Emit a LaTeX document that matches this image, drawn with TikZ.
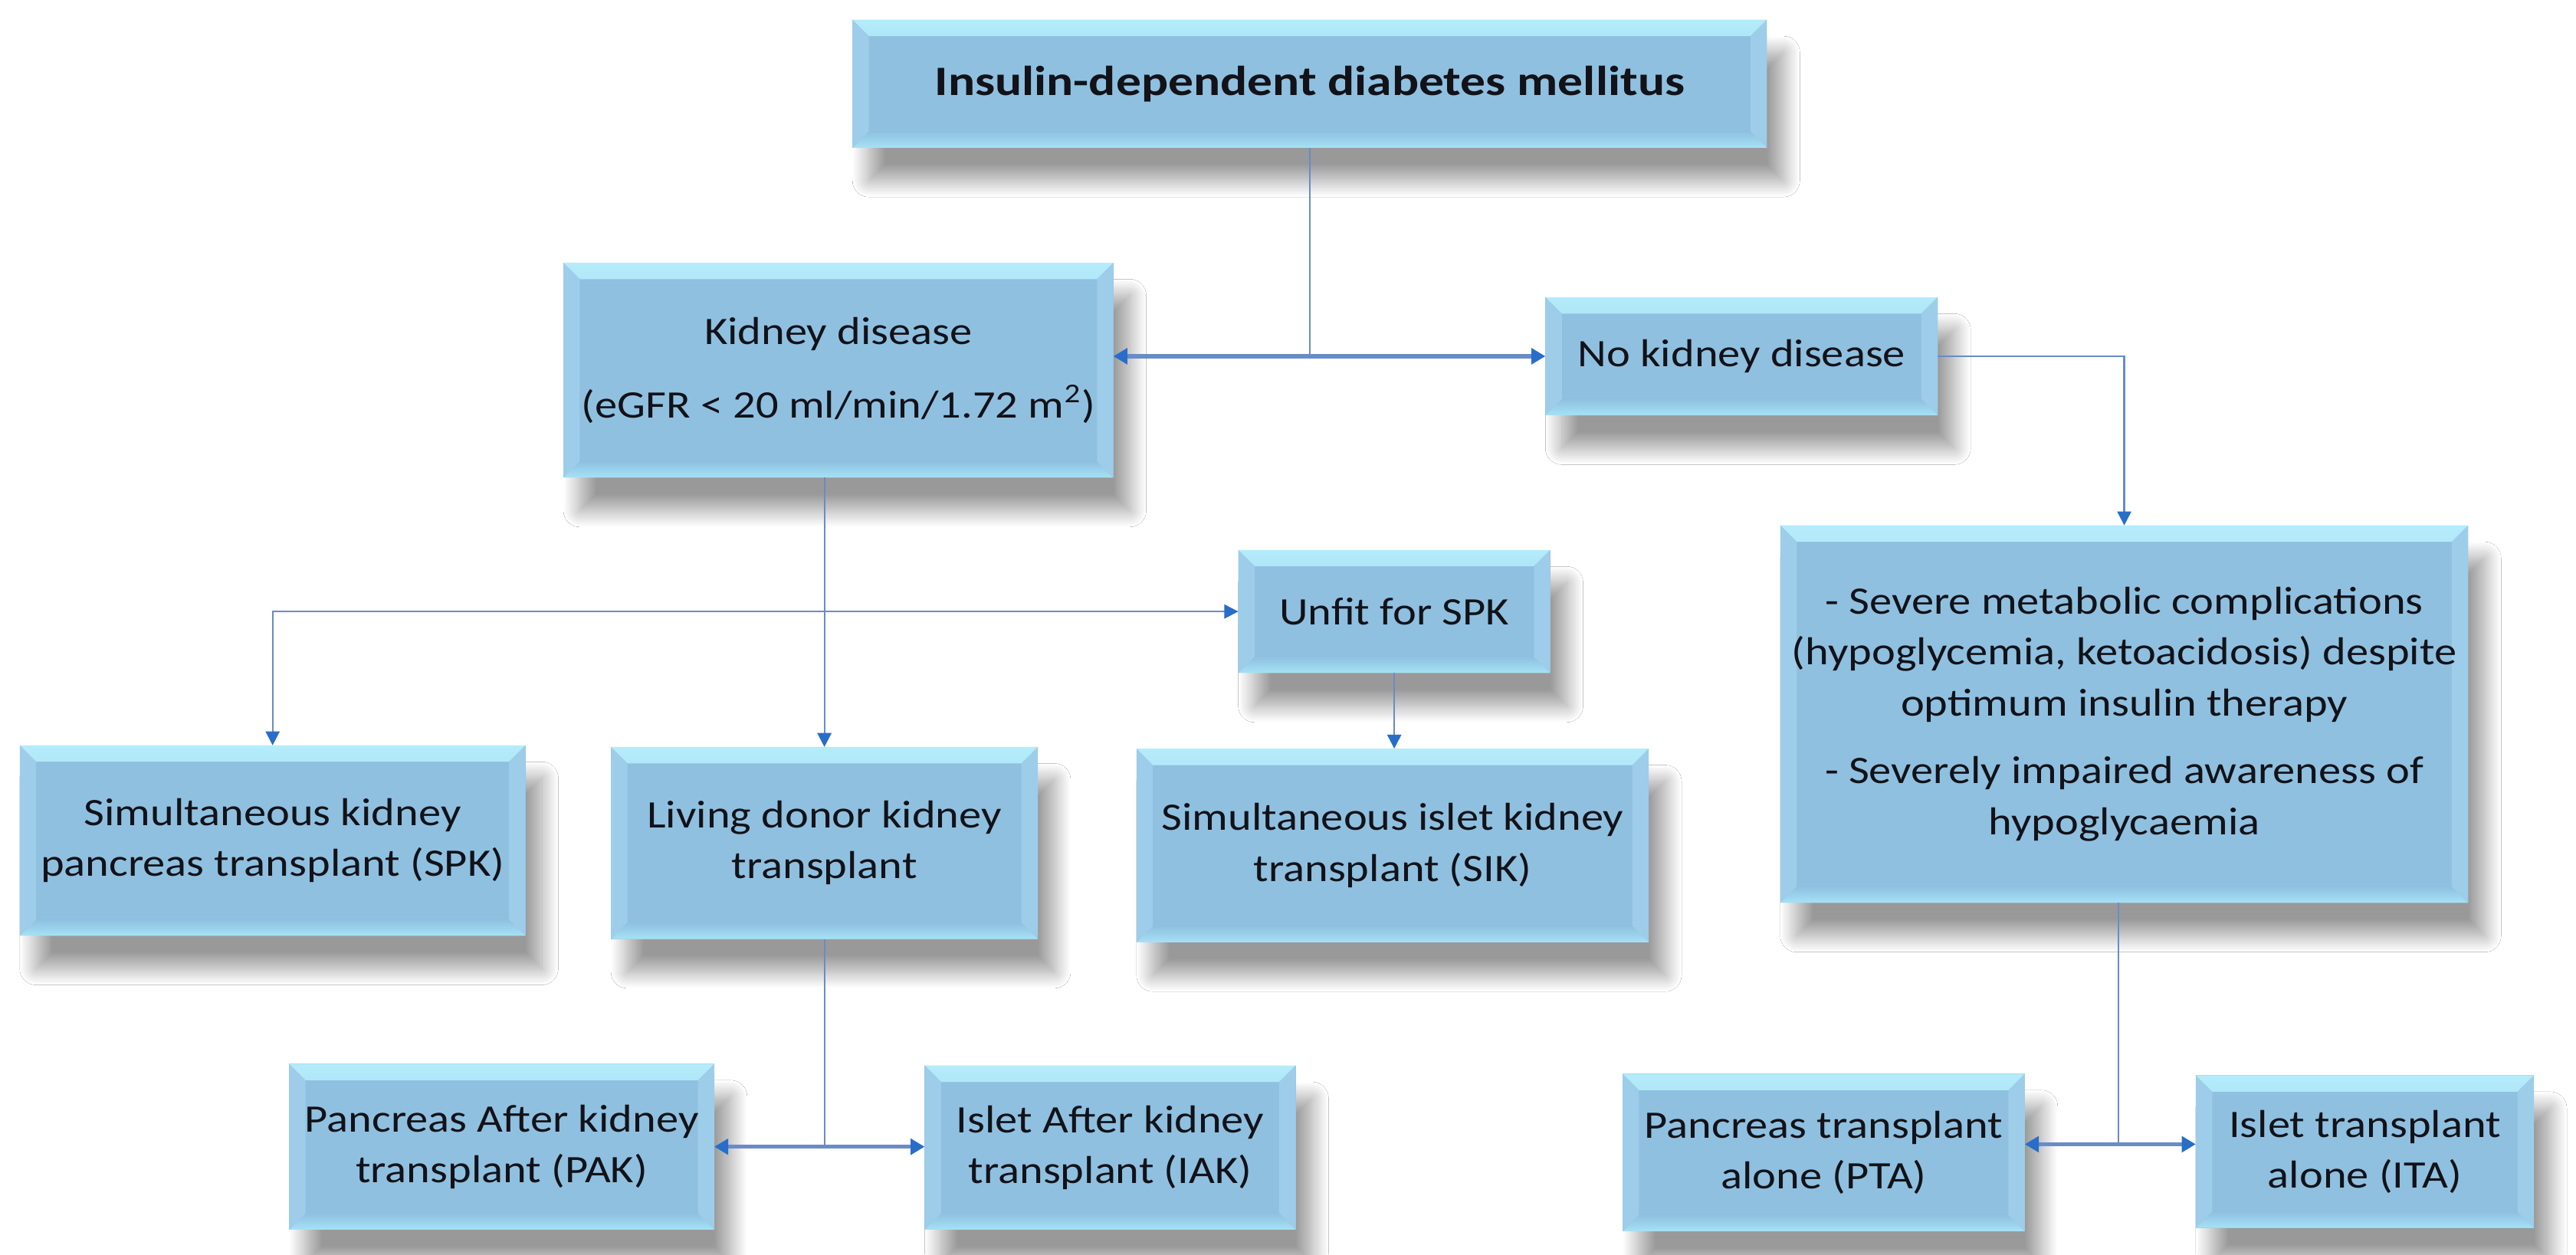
\documentclass[tikz,border=0pt]{standalone}
\usepackage{fontspec}
\setmainfont{Carlito}[FakeStretch=1.15]
\newfontfamily\titlefont{Carlito}[FakeStretch=1.2]
\usepackage{tikz}
\usetikzlibrary{arrows.meta}
\usetikzlibrary{positioning,calc}
\usetikzlibrary{shadows,shadows.blur}
\usepackage{xcolor}
\definecolor{boxblue}{RGB}{143,192,224}
\definecolor{bevtop}{RGB}{180,236,251}
\definecolor{bevbot}{RGB}{166,226,245}
\definecolor{bevside}{RGB}{157,205,233}
\definecolor{lineblue}{RGB}{104,140,200}
\definecolor{tipblue}{RGB}{40,110,200}
\definecolor{txt}{RGB}{18,18,24}
\newcommand{\bevelw}{2mm}
\tikzset{
    tbox/.style={
        rectangle,
        fill=boxblue,
        inner sep=0pt,
        outer sep=0pt,
        align=center,
        text=txt,
        font=\fontsize{13.5}{17.6}\selectfont,
        blur shadow={shadow xshift=2mm, shadow yshift=-4mm,
            shadow blur radius=2mm, shadow blur steps=24, shadow opacity=40},
        path picture={
            \shade[top color=bevtop, bottom color=boxblue]
                (path picture bounding box.north west) -- (path picture bounding box.north east)
                -- ([shift={(-\bevelw,-\bevelw)}]path picture bounding box.north east)
                -- ([shift={(\bevelw,-\bevelw)}]path picture bounding box.north west) -- cycle;
            \shade[top color=boxblue, bottom color=bevbot]
                (path picture bounding box.south west) -- (path picture bounding box.south east)
                -- ([shift={(-\bevelw,\bevelw)}]path picture bounding box.south east)
                -- ([shift={(\bevelw,\bevelw)}]path picture bounding box.south west) -- cycle;
            \fill[bevside]
                (path picture bounding box.north west) -- ([shift={(\bevelw,-\bevelw)}]path picture bounding box.north west)
                -- ([shift={(\bevelw,\bevelw)}]path picture bounding box.south west)
                -- (path picture bounding box.south west) -- cycle;
            \fill[bevside]
                (path picture bounding box.north east) -- ([shift={(-\bevelw,-\bevelw)}]path picture bounding box.north east)
                -- ([shift={(-\bevelw,\bevelw)}]path picture bounding box.south east)
                -- (path picture bounding box.south east) -- cycle;
        }
    },
    link/.style={draw=lineblue, line width=0.6pt},
    arr/.style={link, -{Triangle[length=1.7mm, width=1.7mm, color=tipblue]}},
    arrboth/.style={draw=lineblue, line width=1.4pt,
        {Triangle[length=1.7mm, width=1.9mm, color=tipblue]}-{Triangle[length=1.7mm, width=1.9mm, color=tipblue]}}
}

\begin{document}
\begin{tikzpicture}[x=0.02cm, y=-0.02cm]
    \fill[white] (0,0) rectangle (1568.6,764);
    \useasboundingbox (0,0) rectangle (1568.6,764);

    % Boxes
    \node[tbox, minimum width=11.14cm, minimum height=1.56cm] (idd) at (797.5,51)
        {\titlefont\bfseries\fontsize{14.5}{17}\selectfont Insulin-dependent diabetes mellitus};
    \node[tbox, minimum width=6.70cm, minimum height=2.62cm] (kid) at (510.5,225.5)
        {Kidney disease\\[8pt](eGFR < 20 ml/min/1.72 m\textsuperscript{2})};
    \node[tbox, minimum width=4.78cm, minimum height=1.44cm] (nokid) at (1060.5,217)
        {No kidney disease};
    \node[tbox, minimum width=8.38cm, minimum height=4.60cm] (crit) at (1293.5,435)
        {- Severe metabolic complications\\(hypoglycemia, ketoacidosis) despite\\optimum insulin therapy\\[6pt]- Severely impaired awareness of\\hypoglycaemia};
    \node[tbox, minimum width=3.80cm, minimum height=1.50cm] (unfit) at (849,372.5)
        {Unfit for SPK};
    \node[tbox, minimum width=6.16cm, minimum height=2.32cm] (spk) at (166,512)
        {Simultaneous kidney\\pancreas transplant (SPK)};
    \node[tbox, minimum width=5.20cm, minimum height=2.34cm] (ldk) at (502,513.5)
        {Living donor kidney\\transplant};
    \node[tbox, minimum width=6.24cm, minimum height=2.36cm] (sik) at (848,515)
        {Simultaneous islet kidney\\transplant (SIK)};
    \node[tbox, minimum width=5.18cm, minimum height=2.02cm] (pak) at (305.5,698.5)
        {Pancreas After kidney\\transplant (PAK)};
    \node[tbox, minimum width=4.52cm, minimum height=2.00cm] (iak) at (676,699)
        {Islet After kidney\\transplant (IAK)};
    \node[tbox, minimum width=4.90cm, minimum height=1.92cm] (pta) at (1110.5,702)
        {Pancreas transplant\\alone (PTA)};
    \node[tbox, minimum width=4.12cm, minimum height=1.86cm] (ita) at (1440,701.5)
        {Islet transplant\\alone (ITA)};

    % Connectors
    \draw[link] (idd.south) -- (idd.south |- nokid);
    \draw[arrboth] (kid.east |- nokid) -- (nokid.west);
    \draw[arr] (nokid.east) -| (crit.north);
    \draw[arr] (ldk.north |- kid.south) -- (ldk.north);
    \draw[link, {Triangle[length=1.7mm, width=1.7mm, color=tipblue]}-{Triangle[length=1.7mm, width=1.7mm, color=tipblue]}]
        (unfit.west) -| (spk.north);
    \draw[arr] (unfit.south) -- (unfit.south |- sik.north);
    \draw[link] (ldk.south) -- (ldk.south |- pak.east);
    \draw[arrboth] (pak.east) -- (iak.west |- pak.east);
    \coordinate (critjoin) at (1290,697);
    \draw[link] (crit.south -| critjoin) -- (critjoin);
    \draw[arrboth] (pta.east |- critjoin) -- (ita.west |- critjoin);
\end{tikzpicture}
\end{document}
